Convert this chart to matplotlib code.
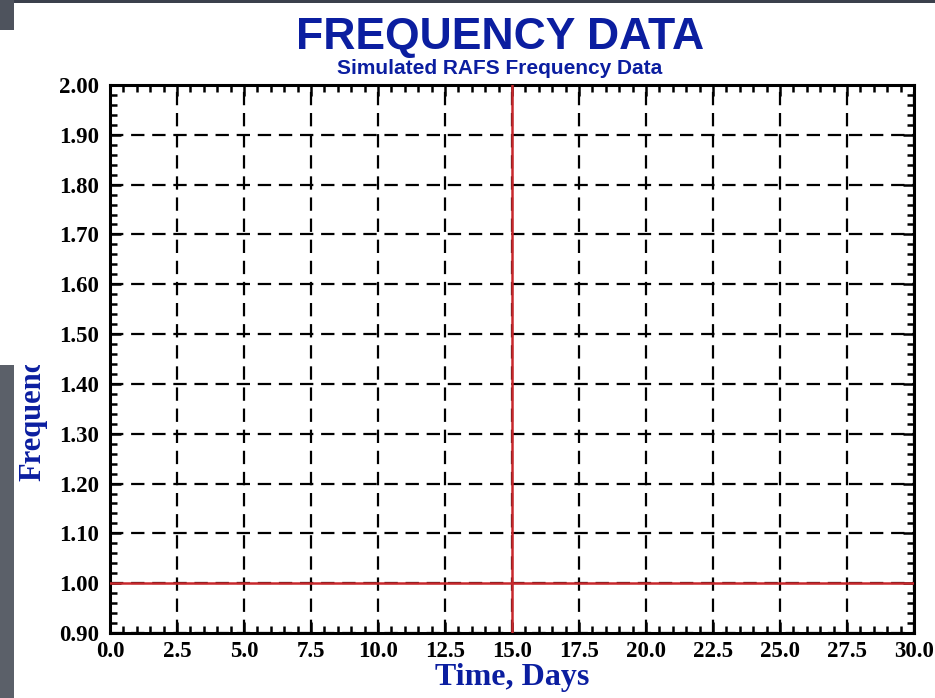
import matplotlib
matplotlib.use("Agg")
import matplotlib.pyplot as plt
from matplotlib.ticker import MultipleLocator, FormatStrFormatter
from matplotlib.patches import Rectangle
from matplotlib.transforms import Bbox, TransformedBbox

# chart values
x_limits = [0.0, 30.0]
y_limits = [0.90, 2.00]
ref_frequency = [1.00]
marker_day = [15.0]

title_text = "FREQUENCY DATA"
subtitle_text = "Simulated RAFS Frequency Data"
xlabel_text = "Time, Days"
ylabel_text = "Frequency"

W, H = 935, 698
blue = "#0b1ea0"
red = "#c8282c"

fig = plt.figure(figsize=(W / 100, H / 100), dpi=100)
fig.patch.set_facecolor("white")

ax = fig.add_axes([110 / W, 1 - 633 / H, (914 - 110) / W, (633 - 85) / H])
ax.set_xlim(x_limits)
ax.set_ylim(y_limits)

ax.xaxis.set_major_locator(MultipleLocator(2.5))
ax.xaxis.set_minor_locator(MultipleLocator(0.5))
ax.yaxis.set_major_locator(MultipleLocator(0.1))
ax.yaxis.set_minor_locator(MultipleLocator(0.02))
ax.xaxis.set_major_formatter(FormatStrFormatter("%.1f"))
ax.yaxis.set_major_formatter(FormatStrFormatter("%.2f"))

ax.grid(True, which="major", color="black", linewidth=1.6, linestyle=(0, (6, 3.5)))
ax.tick_params(which="both", direction="in", top=True, right=True, width=1.8, colors="black")
ax.tick_params(which="major", length=8)
ax.tick_params(axis="x", which="major", pad=6)
ax.tick_params(axis="y", which="major", pad=8)
ax.tick_params(which="minor", length=5)
for s in ax.spines.values():
    s.set_linewidth(2.2)

for lab in ax.get_xticklabels() + ax.get_yticklabels():
    lab.set_fontfamily("Liberation Serif")
    lab.set_fontweight("bold")
    lab.set_fontsize(16.5)

for yv in ref_frequency:
    ax.axhline(yv, color=red, linewidth=1.8, zorder=3)
for xv in marker_day:
    ax.axvline(xv, color=red, linewidth=1.8, zorder=3)

# titles
fig.text(500 / W, 1 - 37 / H, title_text, ha="center", va="center", color=blue,
         fontsize=32, fontweight="bold", family="Liberation Sans")
fig.text(500 / W, 1 - 69 / H, subtitle_text, ha="center", va="center", color=blue,
         fontsize=15, fontweight="bold", family="Liberation Sans")
fig.text(512 / W, 1 - 678 / H, xlabel_text, ha="center", va="center", color=blue,
         fontsize=23, fontweight="bold", family="Liberation Serif")

# y label, cut off by the window edge in the screenshot
yl = fig.text(33 / W, 1 - 481 / H, ylabel_text, ha="center", va="bottom", rotation=90,
              color=blue, fontsize=22, fontweight="bold", family="Liberation Serif")
yl.set_clip_box(TransformedBbox(Bbox([[0, 0], [0.1, 1 - 365 / H]]), fig.transFigure))

# screenshot frame pieces
fig.add_artist(Rectangle((0, 1 - 3 / H), 1, 3 / H, transform=fig.transFigure,
                         facecolor="#3b404c", edgecolor="none", zorder=10))
fig.add_artist(Rectangle((0, 1 - 30 / H), 14 / W, 30 / H, transform=fig.transFigure,
                         facecolor="#4e535d", edgecolor="none", zorder=10))
fig.add_artist(Rectangle((0, 0), 14 / W, 1 - 365 / H, transform=fig.transFigure,
                         facecolor="#5b6069", edgecolor="none", zorder=10))

fig.savefig("out.png", dpi=100)
